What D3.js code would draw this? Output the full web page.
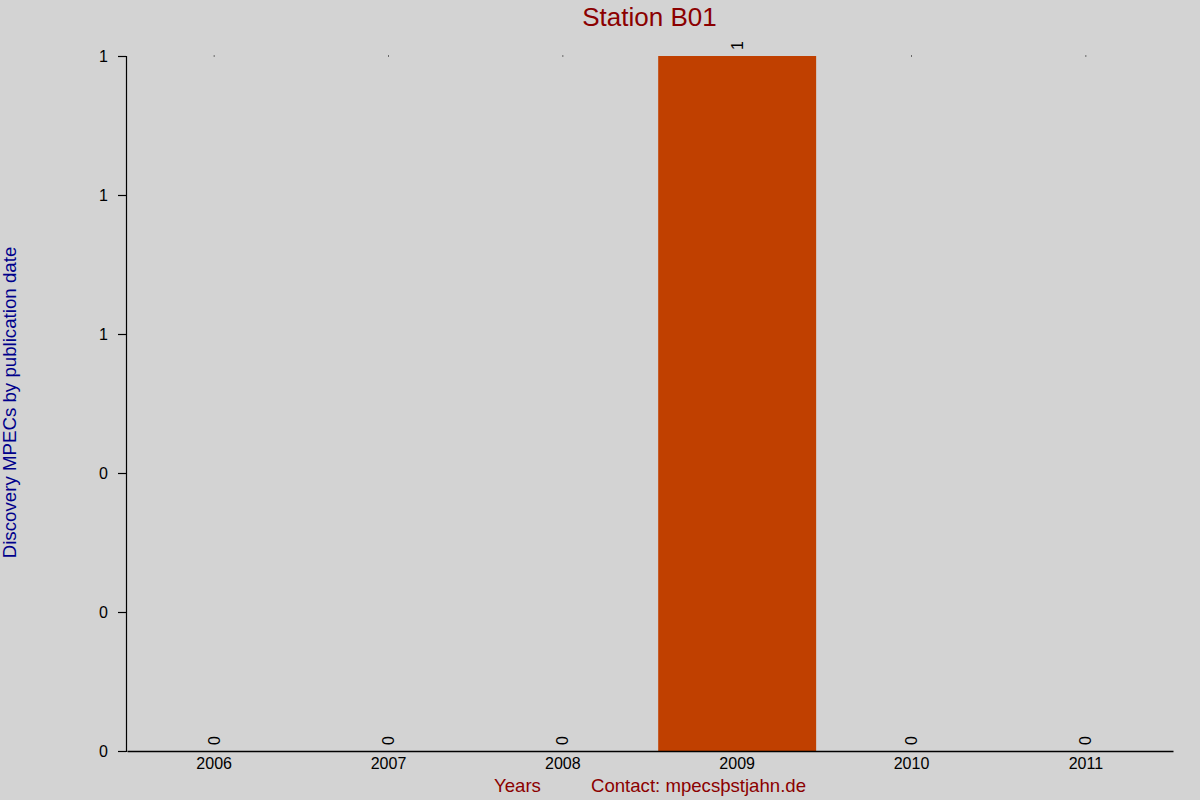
<!DOCTYPE html>
<html>
<head>
<meta charset="utf-8">
<script src="https://cdn.jsdelivr.net/npm/d3@7"></script>
<style>
html,body{margin:0;padding:0;background:#d3d3d3;}
svg{display:block;font-family:"Liberation Sans",Arial,sans-serif;}
</style>
</head>
<body>
<svg id="chart" width="1200" height="800"></svg>
<script>
const years = ["2006","2007","2008","2009","2010","2011"];
const counts = [0,0,0,1,0,0];
const yTicks = [0,0.2,0.4,0.6,0.8,1];
const titleText = "Station B01";
const yLabelText = "Discovery MPECs by publication date";
const xLabelText = "Years";
const contactText = "Contact: mpecsþstjahn.de";

(function () {
const svg = d3.select("#chart");
const W = 1200, H = 800;
const mLeft = 126, mRight = 1172, mTop = 56, mBottom = 751;
const FONT = "Liberation Sans, Arial, sans-serif";

svg.append("rect").attr("width", W).attr("height", H).attr("fill", "#d3d3d3");

const x = d3.scaleBand().domain(years).range([mLeft + 1, mRight + 1])
  .paddingInner(0.094).paddingOuter(0.047);
const y = d3.scaleLinear().domain([0, 1]).range([mBottom, mTop]);

// bars
svg.append("g").selectAll("rect").data(years).join("rect")
  .attr("x", d => x(d))
  .attr("width", x.bandwidth())
  .attr("y", (d, i) => y(counts[i]))
  .attr("height", (d, i) => y(0) - y(counts[i]))
  .attr("fill", "#c04000");

// tiny marks at top for zero bars
svg.append("g").selectAll("rect").data(years.filter((d, i) => counts[i] === 0)).join("rect")
  .attr("x", d => x(d) + x.bandwidth() / 2 - 0.5)
  .attr("y", y(1) - 0.5)
  .attr("width", 1).attr("height", 1)
  .attr("fill", "#000");

// value labels
svg.append("g").selectAll("text").data(years).join("text")
  .attr("transform", (d, i) => `translate(${x(d) + x.bandwidth() / 2 + 5.5},${y(counts[i]) - 6}) rotate(-90)`)
  .attr("font-size", 16)
  .attr("font-family", FONT)
  .attr("fill", "#000")
  .attr("text-anchor", "start")
  .text((d, i) => counts[i]);

// y axis
const yAxis = d3.axisLeft(y).tickValues(yTicks).tickFormat(d3.format(".0f"))
  .tickSize(8).tickSizeOuter(8).tickPadding(10);
const gy = svg.append("g").attr("transform", `translate(${mLeft},0)`).call(yAxis);
gy.select(".domain").attr("stroke", "#000").attr("stroke-width", 1.2);
gy.selectAll(".tick line").attr("stroke", "#000").attr("stroke-width", 1.2);
gy.selectAll(".tick text").attr("font-size", 16).attr("fill", "#000")
  .attr("font-family", FONT);

// x axis
const xAxis = d3.axisBottom(x).tickSize(0).tickSizeOuter(0).tickPadding(7);
const gx = svg.append("g").attr("transform", `translate(0,${mBottom})`).call(xAxis);
gx.select(".domain").attr("stroke", "#000").attr("stroke-width", 1.3);
gx.selectAll(".tick text").attr("font-size", 16).attr("fill", "#000")
  .attr("font-family", FONT);

// title
svg.append("text")
  .attr("x", (mLeft + mRight) / 2 + 0.5).attr("y", 26)
  .attr("text-anchor", "middle")
  .attr("font-size", 26)
  .attr("font-family", FONT)
  .attr("fill", "#8b0000")
  .text(titleText);

// y label
svg.append("text")
  .attr("transform", `translate(16,${(mTop + mBottom) / 2 - 1}) rotate(-90)`)
  .attr("text-anchor", "middle")
  .attr("font-size", 18.7)
  .attr("font-family", FONT)
  .attr("fill", "#00008b")
  .text(yLabelText);

// x label and contact
svg.append("text")
  .attr("x", 494).attr("y", 792)
  .attr("font-size", 18.6)
  .attr("font-family", FONT)
  .attr("fill", "#8b0000")
  .text(xLabelText);
svg.append("text")
  .attr("x", 591).attr("y", 792)
  .attr("font-size", 18.6)
  .attr("font-family", FONT)
  .attr("fill", "#8b0000")
  .text(contactText);
})();
</script>
</body>
</html>
